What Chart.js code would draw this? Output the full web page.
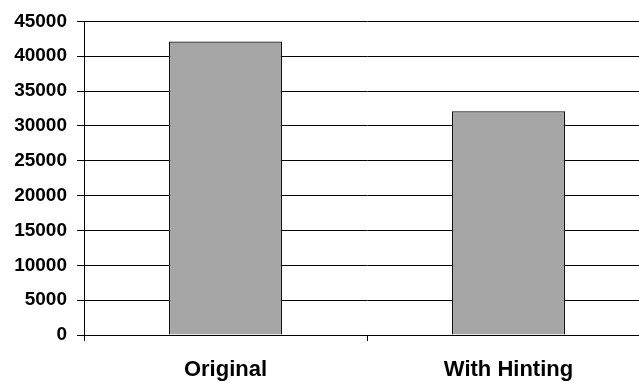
<!DOCTYPE html>
<html>
<head>
<meta charset="utf-8">
<script src="https://cdn.jsdelivr.net/npm/chart.js@4"></script>
<style>
  html, body { margin: 0; padding: 0; background: #fff; overflow: hidden; }
  #wrap { width: 660px; height: 383px; position: relative; }
</style>
</head>
<body>
<div id="wrap"><canvas id="chart"></canvas></div>
<script>
// Hinting comparison
const categories = ['Original', 'With Hinting'];
const values = [42100, 32100];
const yTicks = [0, 5000, 10000, 15000, 20000, 25000, 30000, 35000, 40000, 45000];

const ctx = document.getElementById('chart');

new Chart(ctx, {
  type: 'bar',
  data: {
    labels: categories,
    datasets: [{
      data: values,
      backgroundColor: '#a5a5a5',
      borderColor: '#111',
      borderWidth: 1.2,
      barPercentage: 0.4,
      categoryPercentage: 1
    }]
  },
  options: {
    responsive: true,
    maintainAspectRatio: false,
    animation: false,
    layout: { padding: { top: 19, right: 10, left: 0, bottom: 0 } },
    plugins: {
      legend: { display: false },
      tooltip: { enabled: false }
    },
    scales: {
      x: {
        offset: true,
        grid: {
          offset: true,
          drawOnChartArea: false,
          drawTicks: true,
          tickLength: 6,
          color: '#000'
        },
        border: { color: '#000', width: 1 },
        ticks: {
          color: '#000',
          padding: 16,
          font: { family: 'Liberation Sans, Arial, sans-serif', size: 22, weight: 'bold' }
        },
        afterFit: scale => { scale.height = 48; }
      },
      y: {
        min: 0,
        max: 45000,
        afterBuildTicks: scale => { scale.ticks = yTicks.map(v => ({ value: v })); },
        grid: {
          color: '#000',
          lineWidth: 1,
          drawTicks: true,
          tickLength: 7
        },
        border: { color: '#000', width: 1 },
        ticks: {
          color: '#000',
          padding: 10,
          callback: v => String(v),
          font: { family: 'Liberation Sans, Arial, sans-serif', size: 19, weight: 'bold' }
        },
        afterFit: scale => { scale.width = 84; }
      }
    }
  }
});
</script>
</body>
</html>
